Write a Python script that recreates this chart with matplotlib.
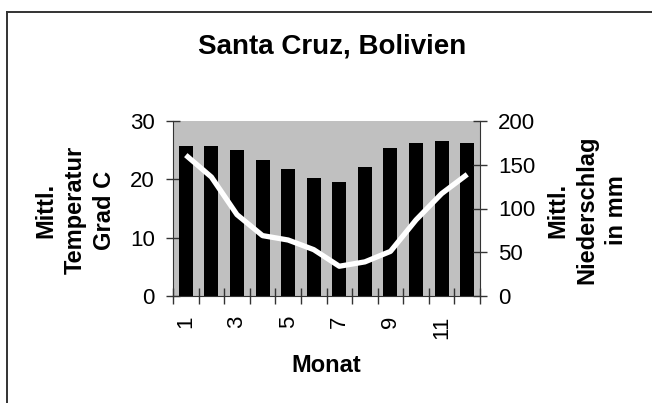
import matplotlib
matplotlib.use('Agg')
import matplotlib.pyplot as plt
from matplotlib.lines import Line2D
import numpy as np

plt.rcParams['font.family'] = ['Liberation Sans', 'DejaVu Sans']

# Klimadaten Santa Cruz
monate = list(range(1, 13))
temperatur = [25.7, 25.7, 25.0, 23.4, 21.8, 20.2, 19.6, 22.1, 25.3, 26.3, 26.6, 26.3]
niederschlag = [161, 136, 93, 69, 64, 53, 34, 39, 51, 87, 117, 139]
monatLabels = ['1', '3', '5', '7', '9', '11']

W, H = 652, 403
fig = plt.figure(figsize=(W / 100, H / 100), dpi=100)
fig.patch.set_facecolor('white')

# Rahmen um das Diagramm (nur links und oben sichtbar)
fig.add_artist(Line2D([7 / W, 7 / W], [0, 1 - 12 / H], color='#333333', lw=1.4, transform=fig.transFigure))
fig.add_artist(Line2D([7 / W, 1], [1 - 12 / H, 1 - 12 / H], color='#333333', lw=1.4, transform=fig.transFigure))

left, right, top, bottom = 173, 480, 121, 296
ax = fig.add_axes([left / W, 1 - bottom / H, (right - left) / W, (bottom - top) / H])
ax.set_facecolor('#C0C0C0')

ax.bar(monate, temperatur, width=0.55, color='black', zorder=2)
ax.set_xlim(0.5, 12.5)
ax.set_ylim(0, 30)
ax.set_yticks([0, 10, 20, 30])

ax.set_xticks(np.arange(0.5, 13, 1))
ax.set_xticklabels([])
ax.set_xticks([1, 3, 5, 7, 9, 11], minor=True)
ax.set_xticklabels(monatLabels, minor=True, rotation=90, fontsize=16)
ax.tick_params(axis='x', which='major', direction='inout', length=11, width=1, color='#333333')
ax.tick_params(axis='x', which='minor', length=0, pad=14)
ax.tick_params(axis='y', direction='inout', length=10, width=1, labelsize=16, pad=8, color='#333333')

ax.spines['top'].set_visible(False)
ax.spines['right'].set_visible(False)
for side in ['left', 'bottom']:
    ax.spines[side].set_color('#333333')

ax2 = ax.twinx()
ax2.plot(monate, niederschlag, color='white', lw=3.8, solid_capstyle='butt', zorder=3)
ax2.set_ylim(0, 200)
ax2.set_yticks([0, 50, 100, 150, 200])
ax2.tick_params(axis='y', direction='inout', length=10, width=1, labelsize=16, pad=8, color='#333333')
for side in ['top', 'left', 'bottom']:
    ax2.spines[side].set_visible(False)
ax2.spines['right'].set_color('#333333')

fig.text(332 / W, 1 - 46 / H, 'Santa Cruz, Bolivien', ha='center', va='center',
         fontsize=20, fontweight='bold')
fig.text(326.5 / W, 1 - 365 / H, 'Monat', ha='center', va='center',
         fontsize=17, fontweight='bold')
fig.text(75 / W, 1 - 210 / H, 'Mittl.\nTemperatur\nGrad C', ha='center', va='center',
         rotation=90, fontsize=17, fontweight='bold', linespacing=1.35)
fig.text(587 / W, 1 - 210 / H, 'Mittl.\nNiederschlag\nin mm', ha='center', va='center',
         rotation=90, fontsize=17, fontweight='bold', linespacing=1.35)

fig.savefig('out.png', dpi=100)
